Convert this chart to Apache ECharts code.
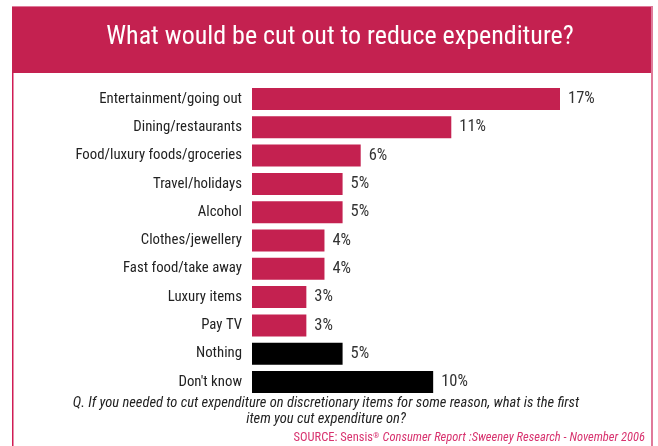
<!DOCTYPE html>
<html>
<head>
<meta charset="utf-8">
<title>What would be cut out to reduce expenditure?</title>
<script src="https://cdn.jsdelivr.net/npm/echarts@6/dist/echarts.min.js"></script>
<style>
  html, body { margin: 0; padding: 0; background: #ffffff; }
  #chart { width: 658px; height: 446px; }
</style>
</head>
<body>
<div id="chart"></div>
<script>
// Survey responses: first discretionary item people would cut
const categories = [
  'Entertainment/going out',
  'Dining/restaurants',
  'Food/luxury foods/groceries',
  'Travel/holidays',
  'Alcohol',
  'Clothes/jewellery',
  'Fast food/take away',
  'Luxury items',
  'Pay TV',
  'Nothing',
  "Don't know"
];
const percentages = [17, 11, 6, 5, 5, 4, 4, 3, 3, 5, 10];
// Non-item answers are drawn in black
const neutralAnswers = ['Nothing', "Don't know"];

const titleText = 'What would be cut out to reduce expenditure?';
const questionText = 'Q. If you needed to cut expenditure on discretionary items for some reason, what is the first\nitem you cut expenditure on?';

const CRIMSON = '#c42150';
const FONT = "'Roboto Condensed', 'DejaVu Sans Condensed', sans-serif";

const chart = echarts.init(document.getElementById('chart'), null, { renderer: 'canvas' });

chart.setOption({
  animation: false,
  backgroundColor: '#ffffff',
  title: {
    text: titleText,
    left: 335,
    top: 19,
    textAlign: 'center',
    textStyle: {
      color: '#ffffff',
      fontFamily: FONT,
      fontSize: 26,
      fontWeight: 'normal'
    }
  },
  grid: {
    left: 252,
    right: 43.65,
    top: 84.85,
    bottom: 49.85,
    containLabel: false
  },
  xAxis: {
    type: 'value',
    min: 0,
    max: 20,
    show: false
  },
  yAxis: {
    type: 'category',
    data: categories,
    inverse: true,
    axisLine: { show: false },
    axisTick: { show: false },
    splitLine: { show: false },
    axisLabel: {
      margin: 10,
      color: '#222222',
      fontFamily: FONT,
      fontSize: 14.8
    }
  },
  series: [{
    type: 'bar',
    data: percentages,
    barWidth: 22,
    itemStyle: {
      color: function (p) {
        return neutralAnswers.indexOf(p.name) >= 0 ? '#000000' : CRIMSON;
      }
    },
    label: {
      show: true,
      position: 'right',
      distance: 8,
      formatter: '{c}%',
      color: '#333333',
      fontFamily: FONT,
      fontSize: 16.5
    }
  }],
  graphic: [
    // header band
    { type: 'rect', z: -1, shape: { x: 12, y: 6, width: 640, height: 67 }, style: { fill: CRIMSON } },
    { type: 'rect', z: -1, shape: { x: 12, y: 6, width: 640, height: 1 }, style: { fill: '#e07a9a' } },
    // frame sides
    { type: 'rect', z: -1, shape: { x: 12, y: 73, width: 1.5, height: 373 }, style: { fill: '#d01c55' } },
    { type: 'rect', z: -1, shape: { x: 651, y: 6, width: 2, height: 440 }, style: { fill: '#e07a9a' } },
    // question wording
    {
      type: 'text',
      x: 326,
      y: 411,
      style: {
        text: questionText,
        align: 'center',
        verticalAlign: 'middle',
        fill: '#222222',
        font: "italic 14.5px 'Roboto Condensed', sans-serif",
        lineHeight: 16
      }
    },
    // source note
    {
      type: 'text',
      x: 645,
      y: 438,
      style: {
        text: '{n|SOURCE: Sensis}{r|®} {i|Consumer Report :Sweeney Research - November 2006}',
        align: 'right',
        verticalAlign: 'middle',
        rich: {
          n: { fill: '#d8336f', fontFamily: FONT, fontSize: 12.5 },
          r: { fill: '#d8336f', fontFamily: FONT, fontSize: 8, verticalAlign: 'top', padding: [0, 0, 4, 0] },
          i: { fill: '#d8336f', fontFamily: FONT, fontSize: 12.5, fontStyle: 'italic' }
        }
      }
    }
  ]
});
</script>
</body>
</html>
